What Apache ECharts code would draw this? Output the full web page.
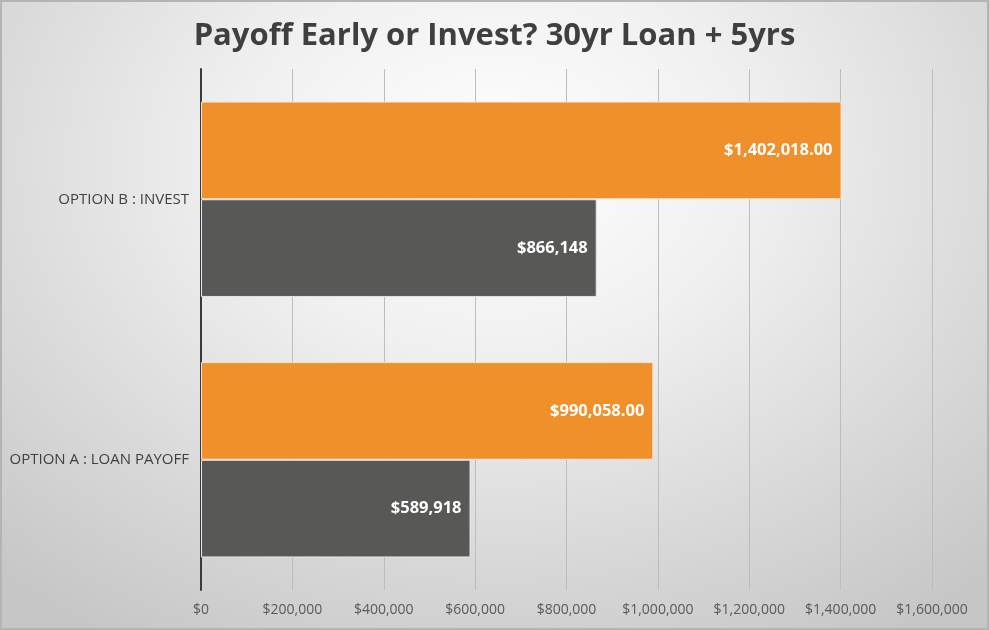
<!DOCTYPE html>
<html>
<head>
<meta charset="utf-8">
<script src="https://cdn.jsdelivr.net/npm/echarts@6/dist/echarts.min.js"></script>
<style>
html,body{margin:0;padding:0;width:989px;height:630px;overflow:hidden;}
#chart{width:989px;height:630px;box-sizing:border-box;border:2px solid #b4b4b4;
background:radial-gradient(ellipse 75% 90% at 50% 25%, #ffffff 0%, #f0f0f0 35%, #d6d6d6 75%, #c6c6c6 100%);}
</style>
</head>
<body>
<div id="chart"></div>
<script>
const categories = ['OPTION A : LOAN PAYOFF', 'OPTION B : INVEST'];
const grayValues = [589918, 866148];
const orangeValues = [990058, 1402018];
const xTicks = [0, 200000, 400000, 600000, 800000, 1000000, 1200000, 1400000, 1600000];

function money(v, dec) {
  return '$' + v.toLocaleString('en-US', {minimumFractionDigits: dec, maximumFractionDigits: dec});
}

const chart = echarts.init(document.getElementById('chart'));
chart.setOption({
  backgroundColor: 'transparent',
  animation: false,
  title: {
    text: 'Payoff Early or Invest? 30yr Loan + 5yrs',
    left: 'center',
    top: 14,
    textStyle: {fontFamily: 'Open Sans', fontWeight: 'bold', fontSize: 31, color: '#3f3f3f'}
  },
  grid: {left: 199, right: 55, top: 67, bottom: 38, containLabel: false},
  xAxis: {
    type: 'value',
    min: xTicks[0], max: xTicks[xTicks.length - 1], interval: xTicks[1] - xTicks[0],
    axisLine: {show: false},
    axisTick: {show: false},
    splitLine: {show: true, lineStyle: {color: '#bdbdbd', width: 1}},
    axisLabel: {
      color: '#595959', fontFamily: 'Open Sans', fontSize: 14, margin: 13,
      formatter: v => money(v, 0)
    }
  },
  yAxis: {
    type: 'category',
    data: categories,
    axisLine: {show: true, lineStyle: {color: '#3a3a3a', width: 2}},
    axisTick: {show: false},
    axisLabel: {color: '#404040', fontFamily: 'Open Sans', fontSize: 15, margin: 12}
  },
  series: [
    {
      name: 'orange', type: 'bar', data: orangeValues,
      barGap: '0%', barCategoryGap: '25%',
      itemStyle: {color: '#f0902a', borderColor: '#f3e6d6', borderWidth: 1},
      label: {show: true, position: 'insideRight', distance: 9, color: '#ffffff',
        fontFamily: 'Open Sans', fontWeight: 'bold', fontSize: 16.5,
        formatter: p => money(p.value, 2)}
    },
    {
      name: 'gray', type: 'bar', data: grayValues,
      barGap: '0%', barCategoryGap: '25%',
      itemStyle: {color: '#585856', borderColor: '#e6e6e6', borderWidth: 1},
      label: {show: true, position: 'insideRight', distance: 9, color: '#ffffff',
        fontFamily: 'Open Sans', fontWeight: 'bold', fontSize: 16.5,
        formatter: p => money(p.value, 0)}
    }
  ]
});
</script>
</body>
</html>
